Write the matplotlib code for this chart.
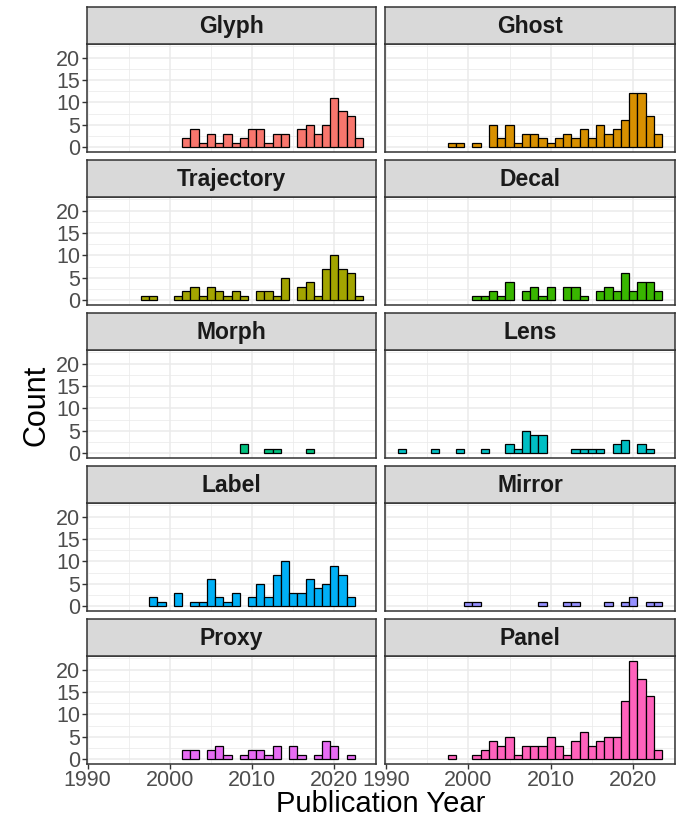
import numpy as np
import matplotlib
matplotlib.use('Agg')
import matplotlib.pyplot as plt

plt.rcParams['font.family'] = ['Liberation Sans', 'DejaVu Sans']

# publication years 1992..2023
years = list(range(1992, 2024))

categories = ['Glyph', 'Ghost', 'Trajectory', 'Decal', 'Morph',
              'Lens', 'Label', 'Mirror', 'Proxy', 'Panel']

glyph = [0, 0, 0, 0, 0, 0, 0, 0, 0, 0, 2, 4, 1, 3, 1, 3, 1, 2, 4, 4, 1, 3, 3, 0, 4, 5, 3, 5, 11, 8, 7, 2]
ghost = [0, 0, 0, 0, 0, 0, 1, 1, 0, 1, 0, 5, 2, 5, 1, 3, 3, 2, 1, 2, 3, 2, 4, 2, 5, 3, 4, 6, 12, 12, 7, 3]
trajectory = [0, 0, 0, 0, 0, 1, 1, 0, 0, 1, 2, 3, 1, 3, 2, 1, 2, 1, 0, 2, 2, 1, 5, 0, 3, 4, 1, 7, 10, 7, 6, 1]
decal = [0, 0, 0, 0, 0, 0, 0, 0, 0, 1, 1, 2, 1, 4, 0, 2, 3, 1, 3, 0, 3, 3, 1, 0, 2, 3, 2, 6, 2, 4, 4, 2]
morph = [0, 0, 0, 0, 0, 0, 0, 0, 0, 0, 0, 0, 0, 0, 0, 0, 0, 2, 0, 0, 1, 1, 0, 0, 0, 1, 0, 0, 0, 0, 0, 0]
lens = [1, 0, 0, 0, 1, 0, 0, 1, 0, 0, 1, 0, 0, 2, 1, 5, 4, 4, 0, 0, 0, 1, 1, 1, 1, 0, 2, 3, 0, 2, 1, 0]
label = [0, 0, 0, 0, 0, 0, 2, 1, 0, 3, 0, 1, 1, 6, 2, 1, 3, 0, 2, 5, 2, 7, 10, 3, 3, 6, 4, 5, 9, 7, 2, 0]
mirror = [0, 0, 0, 0, 0, 0, 0, 0, 1, 1, 0, 0, 0, 0, 0, 0, 0, 1, 0, 0, 1, 1, 0, 0, 0, 1, 0, 1, 2, 0, 1, 1]
proxy = [0, 0, 0, 0, 0, 0, 0, 0, 0, 0, 2, 2, 0, 2, 3, 1, 0, 1, 2, 2, 1, 3, 0, 3, 1, 0, 1, 4, 3, 0, 1, 0]
panel = [0, 0, 0, 0, 0, 0, 1, 0, 0, 1, 2, 4, 3, 5, 1, 3, 3, 3, 5, 3, 1, 4, 6, 3, 4, 5, 5, 13, 22, 18, 14, 2]

counts = [glyph, ghost, trajectory, decal, morph, lens, label, mirror, proxy, panel]
colors = ['#F8766D', '#D89000', '#A3A500', '#39B600', '#00BF7D',
          '#00BFC4', '#00B0F6', '#9590FF', '#E76BF3', '#FF62BC']

W, H = 678, 819
fig = plt.figure(figsize=(W / 100, H / 100), dpi=100)

col_x = [(86.7, 376.3), (385.0, 675.3)]
row_pitch = 153.0

for i, cat in enumerate(categories):
    r, c = divmod(i, 2)
    x0, x1 = col_x[c]
    strip_top = 7.3 + row_pitch * r
    strip_bot = 43.7 + row_pitch * r
    pan_bot = 152.0 + row_pitch * r

    ax = fig.add_axes([x0 / W, 1 - pan_bot / H, (x1 - x0) / W, (pan_bot - strip_bot) / H])
    sx = fig.add_axes([x0 / W, 1 - strip_bot / H, (x1 - x0) / W, (strip_bot - strip_top) / H])

    # strip
    sx.set_facecolor('#D9D9D9')
    sx.set_xticks([])
    sx.set_yticks([])
    for s in sx.spines.values():
        s.set_color('#333333')
        s.set_linewidth(1.1)
    sx.text(0.5, 0.47, cat, ha='center', va='center', fontsize=16.5,
            fontweight='bold', color='#1A1A1A', transform=sx.transAxes)

    # bars
    yv = np.array(years)
    cv = np.array(counts[i])
    m = cv > 0
    ax.bar(yv[m], cv[m], width=1.0, color=colors[i], edgecolor='black',
           linewidth=0.9, zorder=3)

    ax.set_xlim(1989.9, 2025.1)
    ax.set_ylim(-1.1, 23.1)
    ax.set_xticks([1990, 2000, 2010, 2020])
    ax.set_xticks([1995, 2005, 2015, 2025], minor=True)
    ax.set_yticks([0, 5, 10, 15, 20])
    ax.set_yticks([2.5, 7.5, 12.5, 17.5, 22.5], minor=True)
    ax.grid(True, which='major', color='#EBEBEB', linewidth=1.1, zorder=0)
    ax.grid(True, which='minor', color='#EBEBEB', linewidth=0.55, zorder=0)
    ax.set_axisbelow(True)
    for s in ax.spines.values():
        s.set_color('#333333')
        s.set_linewidth(1.1)
    ax.tick_params(which='minor', length=0)
    ax.tick_params(which='major', length=3.5, width=1.0, color='#333333',
                   labelsize=15.5, labelcolor='#4D4D4D', pad=1.0)
    if c == 1:
        ax.tick_params(axis='y', which='major', length=0, labelleft=False)
    if r < 4:
        ax.tick_params(axis='x', which='major', length=0, labelbottom=False)

fig.text(37 / W, 1 - 405 / H, 'Count', rotation=90, ha='center', va='center',
         fontsize=22, color='black')
fig.text(381 / W, 1 - 812 / H, 'Publication Year', ha='center', va='baseline',
         fontsize=21, color='black')

fig.savefig('out.png', dpi=100)
